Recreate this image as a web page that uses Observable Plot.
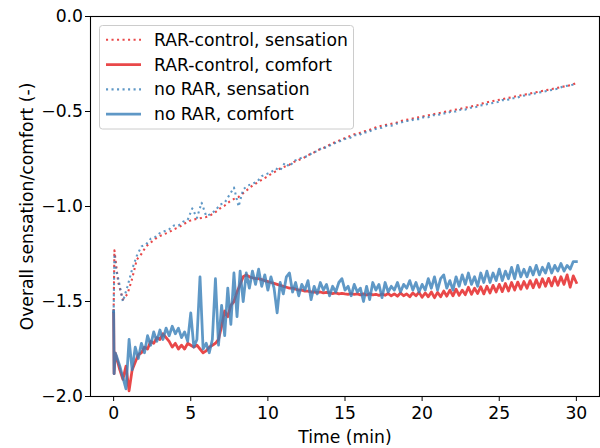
<!DOCTYPE html>
<html><head><meta charset="utf-8">
<script src="https://cdn.jsdelivr.net/npm/d3@7"></script>
<script src="https://cdn.jsdelivr.net/npm/@observablehq/plot@0.6"></script>
<style>body{margin:0;background:#fff;}</style>
</head><body><div id="chart"></div>
<script>
// ---- data ----
const xTicks = [0, 5, 10, 15, 20, 25, 30];
const yTicks = [-2.0, -1.5, -1.0, -0.5, 0.0];
const xLabel = "Time (min)";
const yLabel = "Overall sensation/comfort (-)";
const seriesNames = ["RAR-control, sensation", "RAR-control, comfort", "no RAR, sensation", "no RAR, comfort"];

// sampling times: three early samples, then every 0.3 min (sensation) / 0.2 min (comfort)
const tSens = [0, 0.05, 0.15, ...d3.range(1, 101).map(i => +(i * 0.3).toFixed(2))];
const tComfort = [0, 0.03, 0.1, ...d3.range(1, 151).map(i => +(i * 0.2).toFixed(2))];

const rarSensation = [
  -1.55, -1.23, -1.30,
  -1.40, -1.49, -1.46, -1.38, -1.28, -1.25, -1.21, -1.19, -1.17, -1.155,
  -1.145, -1.135, -1.12, -1.11, -1.095, -1.08, -1.07, -1.065, -1.06, -1.055,
  -1.045, -1.03, -1.01, -0.995, -0.975, -0.96, -0.95, -0.93, -0.91, -0.89,
  -0.875, -0.86, -0.845, -0.83, -0.815, -0.80, -0.79, -0.78, -0.765, -0.755,
  -0.745, -0.73, -0.72, -0.705, -0.695, -0.685, -0.67, -0.66, -0.65, -0.64,
  -0.63, -0.62, -0.615, -0.605, -0.60, -0.59, -0.58, -0.575, -0.57, -0.565,
  -0.56, -0.55, -0.545, -0.54, -0.535, -0.53, -0.525, -0.52, -0.515, -0.51,
  -0.505, -0.50, -0.495, -0.49, -0.485, -0.48, -0.475, -0.47, -0.465, -0.455,
  -0.45, -0.445, -0.44, -0.435, -0.43, -0.425, -0.42, -0.415, -0.41, -0.405,
  -0.40, -0.395, -0.39, -0.385, -0.38, -0.375, -0.37, -0.365, -0.36, -0.35
];
const noRarSensation = [
  -1.56, -1.25, -1.33,
  -1.38, -1.50, -1.42, -1.33, -1.26, -1.21, -1.20, -1.17, -1.16, -1.14,
  -1.13, -1.12, -1.10, -1.10, -1.08, -1.07, -1.01, -1.06, -0.98, -1.05,
  -1.04, -1.02, -0.99, -0.98, -0.94, -0.90, -1.00, -0.91, -0.89, -0.88,
  -0.87, -0.84, -0.83, -0.82, -0.80, -0.81, -0.77, -0.79, -0.76, -0.75,
  -0.74, -0.735, -0.715, -0.71, -0.69, -0.69, -0.675, -0.665, -0.655, -0.645,
  -0.64, -0.625, -0.625, -0.61, -0.61, -0.595, -0.59, -0.585, -0.575, -0.575,
  -0.565, -0.56, -0.55, -0.55, -0.54, -0.54, -0.53, -0.53, -0.52, -0.52,
  -0.51, -0.51, -0.50, -0.50, -0.49, -0.49, -0.48, -0.48, -0.47, -0.465,
  -0.46, -0.455, -0.45, -0.44, -0.44, -0.43, -0.43, -0.42, -0.415, -0.41,
  -0.405, -0.40, -0.395, -0.39, -0.385, -0.38, -0.37, -0.365, -0.36, -0.355
];
const rarComfort = [
  -1.56, -1.88, -1.77,
  -1.80, -1.86, -1.91, -1.84, -1.97,
  -1.86, -1.82, -1.78, -1.77, -1.74,
  -1.75, -1.71, -1.72, -1.69, -1.70,
  -1.67, -1.69, -1.71, -1.74, -1.72,
  -1.75, -1.73, -1.75, -1.72, -1.73,
  -1.74, -1.73, -1.75, -1.77, -1.76,
  -1.74, -1.73, -1.72, -1.70, -1.63,
  -1.55, -1.58, -1.52, -1.50, -1.45,
  -1.41, -1.37, -1.36, -1.37, -1.375,
  -1.38, -1.38, -1.385, -1.39, -1.395,
  -1.40, -1.405, -1.41, -1.415, -1.42,
  -1.425, -1.43, -1.43, -1.435, -1.44,
  -1.44, -1.445, -1.445, -1.45, -1.45,
  -1.452, -1.45, -1.455, -1.452, -1.455,
  -1.458, -1.455, -1.46, -1.457, -1.46,
  -1.462, -1.458, -1.463, -1.46, -1.465,
  -1.46, -1.466, -1.46, -1.465, -1.462,
  -1.468, -1.46, -1.467, -1.458, -1.47,
  -1.46, -1.472, -1.455, -1.47, -1.46,
  -1.475, -1.455, -1.47, -1.452, -1.478,
  -1.455, -1.475, -1.45, -1.48, -1.452,
  -1.475, -1.445, -1.472, -1.44, -1.47,
  -1.435, -1.468, -1.44, -1.465, -1.425,
  -1.462, -1.43, -1.458, -1.422, -1.46,
  -1.42, -1.455, -1.415, -1.45, -1.41,
  -1.448, -1.405, -1.445, -1.40, -1.44,
  -1.398, -1.435, -1.395, -1.43, -1.39,
  -1.428, -1.385, -1.425, -1.38, -1.42,
  -1.378, -1.418, -1.372, -1.415, -1.37,
  -1.41, -1.36, -1.425, -1.365, -1.40
];
const noRarComfort = [
  -1.55, -1.88, -1.77,
  -1.79, -1.84, -1.90, -1.96, -1.70,
  -1.86, -1.74, -1.80, -1.72, -1.77,
  -1.68, -1.73, -1.66, -1.71, -1.65,
  -1.70, -1.64, -1.68, -1.63, -1.67,
  -1.64, -1.69, -1.66, -1.71, -1.56,
  -1.74, -1.70, -1.37, -1.75, -1.72,
  -1.77, -1.70, -1.38, -1.73, -1.52,
  -1.68, -1.43, -1.62, -1.35, -1.58,
  -1.34, -1.50, -1.35, -1.43, -1.34,
  -1.41, -1.33, -1.42, -1.36, -1.44,
  -1.37, -1.43, -1.56, -1.40, -1.46,
  -1.37, -1.35, -1.45, -1.40, -1.47,
  -1.41, -1.44, -1.39, -1.49, -1.42,
  -1.46, -1.40, -1.44, -1.41, -1.47,
  -1.42, -1.45, -1.40, -1.38, -1.44,
  -1.42, -1.47, -1.41, -1.45, -1.43,
  -1.50, -1.42, -1.49, -1.40, -1.44,
  -1.41, -1.48, -1.40, -1.45, -1.42,
  -1.44, -1.40, -1.45, -1.41, -1.43,
  -1.39, -1.44, -1.40, -1.45, -1.41,
  -1.44, -1.38, -1.43, -1.37, -1.44,
  -1.38, -1.36, -1.43, -1.39, -1.44,
  -1.37, -1.42, -1.36, -1.41, -1.35,
  -1.41, -1.37, -1.42, -1.35, -1.40,
  -1.34, -1.40, -1.35, -1.39, -1.33,
  -1.39, -1.34, -1.38, -1.32, -1.38,
  -1.31, -1.37, -1.33, -1.37, -1.32,
  -1.36, -1.31, -1.36, -1.32, -1.35,
  -1.30, -1.35, -1.31, -1.34, -1.30,
  -1.34, -1.31, -1.33, -1.29, -1.29
];

// ---- styling ----
const RED = "#e41a1c", BLUE = "#377eb8";
const SENS_W = 2.08, COMF_W = 2.78, DASH = "2.08,3.43";
const FONT = "17.2px";

const sensRows = tSens.map((t, i) => ({t, rar: rarSensation[i], no: noRarSensation[i]}));
const comfRows = tComfort.map((t, i) => ({t, rar: rarComfort[i], no: noRarComfort[i]}));

const chart = Plot.plot({
  width: 600, height: 448,
  marginLeft: 90, marginRight: 1, marginTop: 16, marginBottom: 52,
  style: {fontFamily: "DejaVu Sans", fontSize: FONT, background: "#fff", color: "#000"},
  x: {domain: [-1.5, 31.5], ticks: xTicks, tickFormat: d => String(d), tickSize: 5, tickPadding: 5, label: null},
  y: {domain: [-2, 0], ticks: yTicks, tickFormat: d3.format(".1f"), tickSize: 5, tickPadding: 2.5, label: null},
  marks: [
    Plot.line(sensRows, {x: "t", y: "rar", stroke: RED, strokeOpacity: 0.8, strokeWidth: SENS_W, strokeDasharray: DASH, strokeLinecap: "butt"}),
    Plot.line(comfRows, {x: "t", y: "rar", stroke: RED, strokeOpacity: 0.8, strokeWidth: COMF_W, strokeLinecap: "square"}),
    Plot.line(sensRows, {x: "t", y: "no", stroke: BLUE, strokeOpacity: 0.8, strokeWidth: SENS_W, strokeDasharray: DASH, strokeLinecap: "butt"}),
    Plot.line(comfRows, {x: "t", y: "no", stroke: BLUE, strokeOpacity: 0.8, strokeWidth: COMF_W, strokeLinecap: "square"}),
    Plot.frame({stroke: "#000", strokeWidth: 1.1}),
    Plot.text([xLabel], {text: d => d, frameAnchor: "bottom", dy: 40.5, textAnchor: "middle", lineAnchor: "middle", fill: "#000"}),
    Plot.text([yLabel], {text: d => d, frameAnchor: "left", dx: -63.5, rotate: -90, textAnchor: "middle", lineAnchor: "middle", fill: "#000"})
  ]
});
document.getElementById("chart").appendChild(chart);

// ---- legend (inside the axes, upper left) ----
const svg = d3.select(chart.tagName.toLowerCase() === "svg" ? chart : chart.querySelector("svg"));
const lg = svg.append("g").attr("text-anchor", "start");
lg.append("rect").attr("x", 99.5).attr("y", 25.5).attr("width", 254).attr("height", 103.5)
  .attr("rx", 3).attr("fill", "#fff").attr("fill-opacity", 0.8).attr("stroke", "#cccccc").attr("stroke-width", 1);
const legendStyles = [
  {color: RED, w: SENS_W, dash: DASH},
  {color: RED, w: COMF_W, dash: null},
  {color: BLUE, w: SENS_W, dash: DASH},
  {color: BLUE, w: COMF_W, dash: null}
];
seriesNames.forEach((name, i) => {
  const y = 39.8 + i * 24.8;
  const s = legendStyles[i];
  const ln = lg.append("line").attr("x1", 106).attr("x2", 141).attr("y1", y).attr("y2", y)
    .attr("stroke", s.color).attr("stroke-opacity", 0.8).attr("stroke-width", s.w);
  if (s.dash) ln.attr("stroke-dasharray", s.dash);
  lg.append("text").attr("x", 154).attr("y", y).attr("dy", "0.35em").attr("text-anchor", "start")
    .attr("font-family", "DejaVu Sans").attr("font-size", FONT).attr("fill", "#000").text(name);
});
</script>
</body></html>
